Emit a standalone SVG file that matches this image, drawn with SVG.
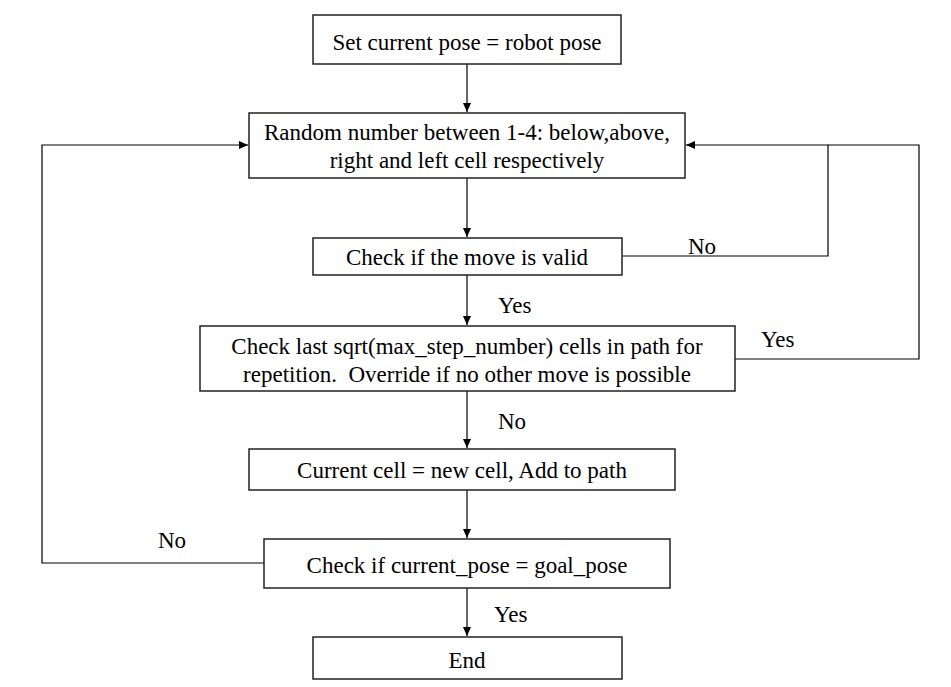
<svg xmlns="http://www.w3.org/2000/svg" width="951" height="687" viewBox="0 0 951 687">
<defs>
<marker id="ah" markerWidth="10" markerHeight="8" refX="9" refY="4" orient="auto" markerUnits="userSpaceOnUse">
<path d="M0,0 L9,4 L0,8 Z" fill="#000"/>
</marker>
<style>
.box{fill:#fff;stroke:#222;stroke-width:1.5}
.t{font-family:"Liberation Serif","Times New Roman",serif;font-size:23px;fill:#000;text-anchor:middle}
.l{font-family:"Liberation Serif","Times New Roman",serif;font-size:23px;fill:#000}
.c{fill:none;stroke:#000;stroke-width:1.2}
</style>
</defs>
<rect width="951" height="687" fill="#fff"/>
<g id="connectors">
<path class="c" d="M467,64 V112" marker-end="url(#ah)"/>
<path class="c" d="M467,178 V237" marker-end="url(#ah)"/>
<path class="c" d="M467,275 V325" marker-end="url(#ah)"/>
<path class="c" d="M467,391 V448" marker-end="url(#ah)"/>
<path class="c" d="M467,490 V538" marker-end="url(#ah)"/>
<path class="c" d="M467,588 V636" marker-end="url(#ah)"/>
<path class="c" d="M622,256 H828 V145 H686" marker-end="url(#ah)"/>
<path class="c" d="M735,359 H919 V145 H828"/>
<path class="c" d="M264,563 H42 V145 H248" marker-end="url(#ah)"/>
<text class="l" x="688" y="254">No</text>
<text class="l" x="498" y="313">Yes</text>
<text class="l" x="761" y="347">Yes</text>
<text class="l" x="498" y="429">No</text>
<text class="l" x="158" y="548">No</text>
<text class="l" x="494" y="622">Yes</text>
</g>
<g id="n1"><rect class="box" x="313" y="15" width="308" height="49"/><text class="t" x="467" y="50">Set current pose = robot pose</text></g>
<g id="n2"><rect class="box" x="249" y="113" width="436" height="65"/><text class="t" x="467" y="140">Random number between 1-4: below,above,</text><text class="t" x="467" y="168">right and left cell respectively</text></g>
<g id="n3"><rect class="box" x="313" y="238" width="309" height="37"/><text class="t" x="467" y="265">Check if the move is valid</text></g>
<g id="n4"><rect class="box" x="200" y="326" width="535" height="65"/><text class="t" x="467" y="354">Check last sqrt(max_step_number) cells in path for</text><text class="t" x="467" y="382" style="white-space:pre">repetition.  Override if no other move is possible</text></g>
<g id="n5"><rect class="box" x="249" y="449" width="426" height="41"/><text class="t" x="462" y="478">Current cell = new cell, Add to path</text></g>
<g id="n6"><rect class="box" x="264" y="539" width="406" height="49"/><text class="t" x="467" y="573">Check if current_pose = goal_pose</text></g>
<g id="n7"><rect class="box" x="313" y="637" width="309" height="42"/><text class="t" x="467" y="668">End</text></g>
</svg>
